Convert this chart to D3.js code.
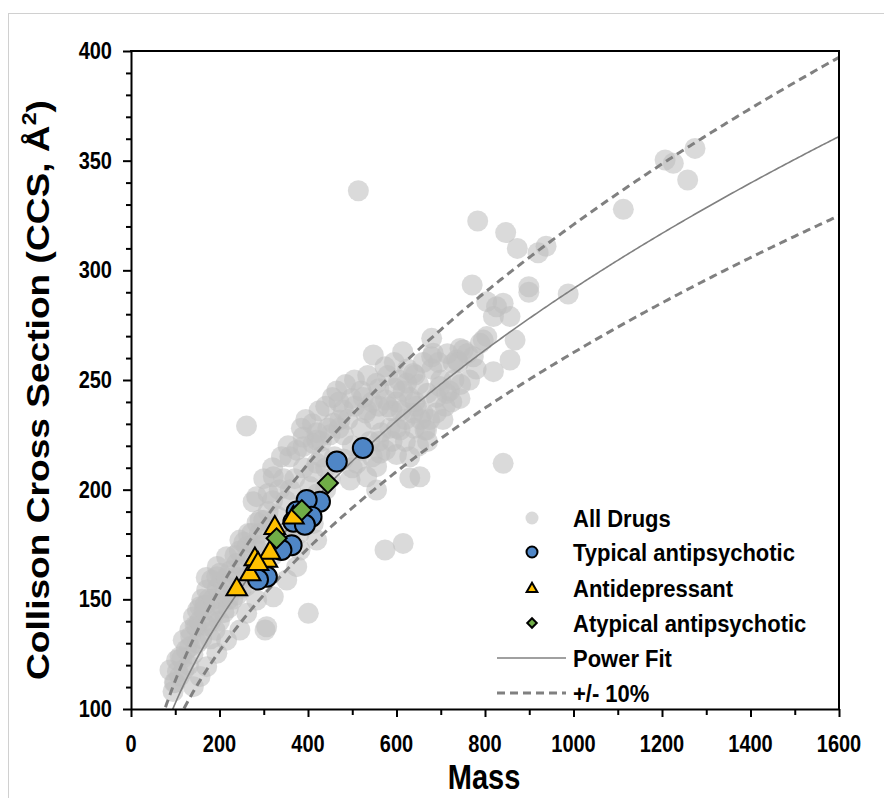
<!DOCTYPE html>
<html>
<head>
<meta charset="utf-8">
<script src="https://cdn.jsdelivr.net/npm/d3@7/dist/d3.min.js"></script>
<style>
  html, body { margin: 0; padding: 0; background: #fff; }
  svg { display: block; }
  text { font-family: "Liberation Sans", Arial, sans-serif; font-weight: bold; fill: #000; }
</style>
</head>
<body>
<svg id="chart" width="884" height="798"></svg>
<script>
// ---------- data ----------
const allDrugsMass = [513.8,783.5,846.7,873,920,938,1112.6,1207,1225.6,1274.6,1258,771,899,899,988,803.8,826,841,856.5,819,868,804,789,751,736,773.6,856.5,819,796,743.5,728,
  679.5,679.5,547.6,614,574,555,498.7,472,641.8,698,743.5,668,683,638,596.6,623,641.8,713.4,532.6,581.5,638,664.4,608,419.7,457,562.7,555,653,841,532.6,495,389,555,630,574,615,400.7,306.6,303,261,
  600,615,630,645,660,620,605,650,670,590,575,560,480,500,520,540,460,510,530,490,450,470,550,565,585,440,420,700,720,680,740,760,710,690,730,
  359,321.6,284,276,310,291.5,272.7,261.5,238.9,193.7,182,167,141,133,118,103,88,374.5,352,321.6,284,261.5,246,216,194,171,156,141,246,216,201,171,156,148.5,133,111,404.5,419.7,382,412,374.5,412,480,389,420,
  330,350,360,340,370,390,410,430,380,400,420,440,450,360,320,300,310,290,280,270,260,250,240,230,220,210,200,190,180,170,160,150,140,130,120,110,100,95,
  385,395,410,425,440,455,465,430,445,470,485,505,520,535,545,505,525,560,545,520,500,480,560,575,590,600,620,640,655,675,690,705,725,745,765,780,610,625,660,695,715,580,595,600,630,650,670,
  125,135,145,155,165,175,185,195,205,215,225,235,245,255,265,180,190,200,210,220,230,240,250,260,270,280,290,300,310,320,335,345,300,285,195,170,160,150,115,105,98,300,320,340,355];
const allDrugsCCS = [336.3,322.5,317.2,310,308,311,327.8,350.3,348.8,355.6,341.2,293.3,292.5,290,289.2,285.7,283.4,285,278.9,278.9,268.2,269.8,266.7,263.7,259.1,260.6,259.1,253.8,268.2,264.4,257.6,
  269,260.6,261.4,262.9,256,248.5,241.6,231.8,252.3,247,241.6,227.2,262.2,253,246.2,248.5,240.1,243.9,236.3,237.8,234.8,227.2,227.2,222.6,230.3,216.6,210.5,205.9,212,205.9,204.4,219.6,199.8,205.3,172.5,175.5,143.6,137.5,136,229,
  240,245,242,238,235,232,250,248,244,236,241,246,225,220,228,222,215,212,235,232,225,240,232,226,228,210,212,250,245,255,258,262,238,242,250,
  215,205.9,196.8,194.5,198.3,186.2,180.1,174,166.4,160.3,158.8,147.4,142,136,131.4,122.3,117.8,164.9,158.8,151.2,149.7,143.6,136,131.4,125.4,119.3,114.8,110.2,177,169.4,161.9,154.3,146.6,137.5,128.4,123.8,201.4,177,172.5,184.6,218,221,236.3,224,226,
  188,195,200,180,205,210,208,215,180,192,198,200,205,180,170,165,182,172,165,160,156,165,160,155,150,152,148,144,140,138,132,130,125,120,118,115,112,108,
  228,232,230,236,238,242,245,222,228,228,248,250,245,252,240,238,242,238,215,218,210,214,222,218,222,216,222,228,232,232,235,232,240,248,250,255,236,255,258,258,262,252,258,228,215,220,222,
  127,133,138,140,145,150,150,155,158,160,163,170,172,176,180,132,136,140,144,146,150,152,155,160,168,175,180,186,190,195,200,205,175,185,165,160,150,145,123,117,112,205,210,215,220];

const typicalMass = [524,465,427,397,374.5,408,367,393,363,340,307,287];
const typicalCCS  = [219,212.8,194.5,195.3,190,187.7,185.4,184,174.7,172.5,160.3,159];

const antidepMass = [239,269,280,307,314,325,367,287];
const antidepCCS  = [155,161.9,168.7,168,171.7,183,187.7,166.6];

const atypicalMass = [445,386,329];
const atypicalCCS  = [203,190.7,177.8];

const fitA = 12.7, fitB = 0.4537;     // power fit CCS = A * Mass^B
const bandPct = 0.10;

const xTicks = [0,200,400,600,800,1000,1200,1400,1600];
const yTicks = [100,150,200,250,300,350,400];

const legendLabels = ["All Drugs","Typical antipsychotic","Antidepressant","Atypical antipsychotic","Power Fit","+/- 10%"];

// ---------- setup ----------
const svg = d3.select("#chart");
const x = d3.scaleLinear().domain([0,1600]).range([131,839]);
const y = d3.scaleLinear().domain([100,400]).range([709,51]);

const GREY = "#c0c0c0", BLUE = "#4f86c6", YELLOW = "#ffc000", GREEN = "#70ad47", LINE = "#808080";

// figure border
svg.append("rect").attr("x",8.5).attr("y",13.5).attr("width",900).attr("height",900)
  .attr("fill","none").attr("stroke","#d0d0d0").attr("stroke-width",1);

svg.append("clipPath").attr("id","clip").append("rect")
  .attr("x",131).attr("y",51).attr("width",708).attr("height",658);

// ---------- grey cloud ----------
const allDrugs = allDrugsMass.map((m,i)=>({m, c: allDrugsCCS[i]}));
svg.append("g").selectAll("circle").data(allDrugs).join("circle")
  .attr("cx",d=>x(d.m)).attr("cy",d=>y(d.c)).attr("r",10.5)
  .attr("fill",GREY).attr("fill-opacity",0.58);

// ---------- fit lines ----------
const fitMasses = d3.range(60, 1601, 4);
const lineFor = k => d3.line().x(m=>x(m)).y(m=>y(k*fitA*Math.pow(m,fitB)));
const lines = svg.append("g").attr("clip-path","url(#clip)");
lines.append("path").datum(fitMasses).attr("d",lineFor(1))
  .attr("fill","none").attr("stroke",LINE).attr("stroke-width",1.6);
lines.append("path").datum(fitMasses).attr("d",lineFor(1+bandPct))
  .attr("fill","none").attr("stroke",LINE).attr("stroke-width",3).attr("stroke-dasharray","8,5");
lines.append("path").datum(fitMasses).attr("d",lineFor(1-bandPct))
  .attr("fill","none").attr("stroke",LINE).attr("stroke-width",3).attr("stroke-dasharray","8,5");

// ---------- highlighted series ----------
const typical = typicalMass.map((m,i)=>({m, c: typicalCCS[i]}));
svg.append("g").selectAll("circle").data(typical).join("circle")
  .attr("cx",d=>x(d.m)).attr("cy",d=>y(d.c)).attr("r",10)
  .attr("fill",BLUE).attr("stroke","#000").attr("stroke-width",2);

const antidep = antidepMass.map((m,i)=>({m, c: antidepCCS[i]}));
const tri = d3.symbol().type(d3.symbolTriangle).size(185);
svg.append("g").selectAll("path").data(antidep).join("path")
  .attr("d",tri).attr("transform",d=>`translate(${x(d.m)},${y(d.c)+1})`)
  .attr("fill",YELLOW).attr("stroke","#000").attr("stroke-width",2).attr("stroke-linejoin","miter");

const atypical = atypicalMass.map((m,i)=>({m, c: atypicalCCS[i]}));
const sq = d3.symbol().type(d3.symbolSquare).size(200);
svg.append("g").selectAll("path").data(atypical).join("path")
  .attr("d",sq).attr("transform",d=>`translate(${x(d.m)},${y(d.c)}) rotate(45)`)
  .attr("fill",GREEN).attr("stroke","#000").attr("stroke-width",2);

// ---------- axes ----------
const lineStyle = g => g.selectAll(".tick line").attr("stroke","#000").attr("stroke-width",2);

// minor ticks
svg.append("g").attr("transform","translate(0,709)")
  .call(d3.axisBottom(x).tickValues(d3.range(100,1600,200)).tickSize(6).tickFormat(""))
  .call(g=>{g.select(".domain").remove(); lineStyle(g);});
svg.append("g").attr("transform","translate(131,0)")
  .call(d3.axisLeft(y).tickValues(d3.range(110,400,10).filter(v=>v%50!==0)).tickSize(5).tickFormat(""))
  .call(g=>{g.select(".domain").remove(); lineStyle(g);});

// major ticks + domain
svg.append("g").attr("transform","translate(0,709)")
  .call(d3.axisBottom(x).tickValues(xTicks).tickSize(8).tickSizeOuter(0).tickFormat(""))
  .call(g=>{g.select(".domain").attr("stroke","#000").attr("stroke-width",2); lineStyle(g);});
svg.append("g").attr("transform","translate(131,0)")
  .call(d3.axisLeft(y).tickValues(yTicks).tickSize(8).tickSizeOuter(0).tickFormat(""))
  .call(g=>{g.select(".domain").attr("stroke","#000").attr("stroke-width",2); lineStyle(g);});

// tick labels (slightly tall glyphs as in the reference)
svg.append("g").selectAll("text").data(xTicks).join("text")
  .attr("transform",d=>`translate(${x(d)},752) scale(1,1.18)`)
  .attr("text-anchor","middle").attr("font-size",20).text(d=>d);
svg.append("g").selectAll("text").data(yTicks).join("text")
  .attr("transform",d=>`translate(112,${y(d)+8}) scale(1,1.18)`)
  .attr("text-anchor","end").attr("font-size",20).text(d=>d);

// top and right border
svg.append("line").attr("x1",130).attr("x2",840).attr("y1",51).attr("y2",51).attr("stroke","#000").attr("stroke-width",2);
svg.append("line").attr("x1",839).attr("x2",839).attr("y1",50).attr("y2",710).attr("stroke","#000").attr("stroke-width",2);

// axis titles
svg.append("text").attr("transform","translate(484,789) scale(1,1.2)").attr("text-anchor","middle")
  .attr("font-size",29).text("Mass");
const yl = svg.append("text").attr("transform","translate(49,390) rotate(-90) scale(1.16,1)").attr("text-anchor","middle")
  .attr("font-size",32);
yl.append("tspan").text("Collison Cross Section (CCS, Å");
yl.append("tspan").attr("font-size",20).attr("dy",-13).text("2");
yl.append("tspan").attr("dy",13).text(")");

// ---------- legend ----------
const rowsY = [518,552,588,623,658,693];
const lg = svg.append("g");
const symX = 532;
lg.append("circle").attr("cx",symX).attr("cy",rowsY[0]).attr("r",6.5).attr("fill",GREY).attr("fill-opacity",0.58);
lg.append("circle").attr("cx",symX).attr("cy",rowsY[1]).attr("r",5.5).attr("fill",BLUE).attr("stroke","#000").attr("stroke-width",2);
lg.append("path").attr("d",d3.symbol().type(d3.symbolTriangle).size(50)).attr("transform",`translate(${symX},${rowsY[2]+1})`)
  .attr("fill",YELLOW).attr("stroke","#000").attr("stroke-width",2);
lg.append("path").attr("d",d3.symbol().type(d3.symbolSquare).size(45)).attr("transform",`translate(${symX},${rowsY[3]}) rotate(45)`)
  .attr("fill",GREEN).attr("stroke","#000").attr("stroke-width",2);
lg.append("line").attr("x1",497).attr("x2",566).attr("y1",rowsY[4]).attr("y2",rowsY[4]).attr("stroke",LINE).attr("stroke-width",1.6);
lg.append("line").attr("x1",497).attr("x2",566).attr("y1",rowsY[5]).attr("y2",rowsY[5]).attr("stroke",LINE).attr("stroke-width",3).attr("stroke-dasharray","8,5");
lg.selectAll("text").data(legendLabels).join("text")
  .attr("transform",(d,i)=>`translate(573,${rowsY[i]+9}) scale(1,1.1)`)
  .attr("font-size",22).text(d=>d);
</script>
</body>
</html>
